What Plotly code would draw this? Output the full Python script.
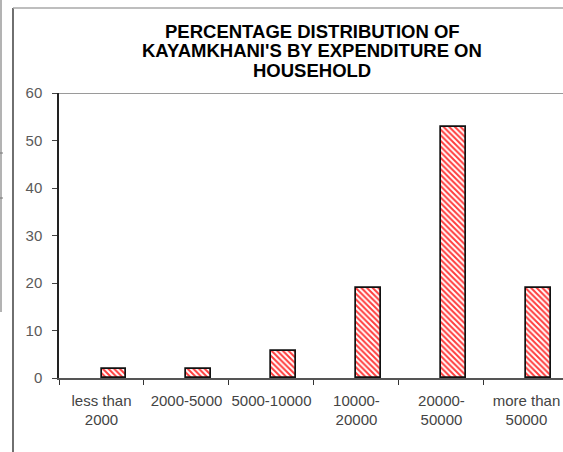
import plotly.graph_objects as go

# Household expenditure bands and share of Kayamkhani households (%)
categories = ["less than<br>2000", "2000-5000", "5000-10000",
              "10000-<br>20000", "20000-<br>50000", "more than<br>50000"]
percent = [1.89, 1.89, 5.66, 18.87, 52.83, 18.87]
y_ticks = [0, 10, 20, 30, 40, 50, 60]

title_lines = ["PERCENTAGE DISTRIBUTION OF",
               "KAYAMKHANI'S BY EXPENDITURE ON",
               "HOUSEHOLD"]

W, H = 563, 452
L, R, T, B = 59, 0, 93, 74
plot_w = W - L - R
plot_h = H - T - B


def px_x(x):
    return (x - L) / plot_w


def px_y(y):
    return (H - B - y) / plot_h


fig = go.Figure()
fig.add_trace(go.Bar(
    x=categories,
    y=percent,
    width=0.29,
    offset=0.0,
    marker=dict(
        color="#ff6a6a",
        line=dict(color="#111111", width=1.7),
        pattern=dict(shape="\\", size=4, solidity=0.5,
                     fgcolor="#ff3c3c", bgcolor="#ffffff",
                     fillmode="replace"),
    ),
    showlegend=False,
    hoverinfo="x+y",
))

font_main = "Liberation Sans, Arial, sans-serif"

fig.update_layout(
    width=W, height=H,
    margin=dict(l=L, r=R, t=T, b=B, pad=0, autoexpand=False),
    paper_bgcolor="white",
    plot_bgcolor="white",
    bargap=0,
    font=dict(family=font_main, size=15, color="#333333"),
    xaxis=dict(
        type="category",
        range=[-0.5, 5.43],
        automargin=False,
        tickangle=0,
        showline=True, linecolor="#555555", linewidth=1.5,
        ticks="outside", tickson="boundaries", ticklen=5,
        tickcolor="#333333", tickwidth=1,
        showgrid=False, zeroline=False,
        tickfont=dict(size=15, color="#444444"),
        ticklabelstandoff=8,
    ),
    yaxis=dict(
        range=[0, 60],
        automargin=False,
        tickvals=y_ticks,
        showline=True, linecolor="#222222", linewidth=1.5,
        ticks="outside", ticklen=5, tickcolor="#444444", tickwidth=1,
        showgrid=False, zeroline=False,
        tickfont=dict(size=15, color="#5a5a5a"),
        ticklabelstandoff=7,
    ),
)

# top boundary of the plotting area at the 60 mark
fig.add_shape(type="line", xref="paper", yref="y", x0=0, x1=1, y0=60, y1=60,
              line=dict(color="#9a9a9a", width=1.8))

# chart frame: dark left edge and light top edge
fig.add_shape(type="line", xref="paper", yref="paper",
              x0=px_x(13), x1=px_x(13), y0=px_y(8), y1=px_y(H + 2),
              line=dict(color="#222222", width=1.3))
fig.add_shape(type="line", xref="paper", yref="paper",
              x0=px_x(13), x1=px_x(W + 2), y0=px_y(8), y1=px_y(8),
              line=dict(color="#a8a8a8", width=1.3))

# neighbouring panel edge on the far left
fig.add_shape(type="line", xref="paper", yref="paper",
              x0=px_x(1), x1=px_x(1), y0=px_y(-2), y1=px_y(312),
              line=dict(color="#9a9a9a", width=1.5))
for yy in (153, 198):
    fig.add_shape(type="line", xref="paper", yref="paper",
                  x0=px_x(0), x1=px_x(3), y0=px_y(yy), y1=px_y(yy),
                  line=dict(color="#777777", width=1))

# three-line bold title
for text, yc in zip(title_lines, (31.0, 50.5, 70.0)):
    fig.add_annotation(
        text=text, xref="paper", yref="paper",
        x=px_x(312), y=px_y(yc), xanchor="center", yanchor="middle",
        showarrow=False,
        font=dict(family=font_main, size=18.5, color="#000000", weight="bold"),
    )

fig.write_html("out.html")
